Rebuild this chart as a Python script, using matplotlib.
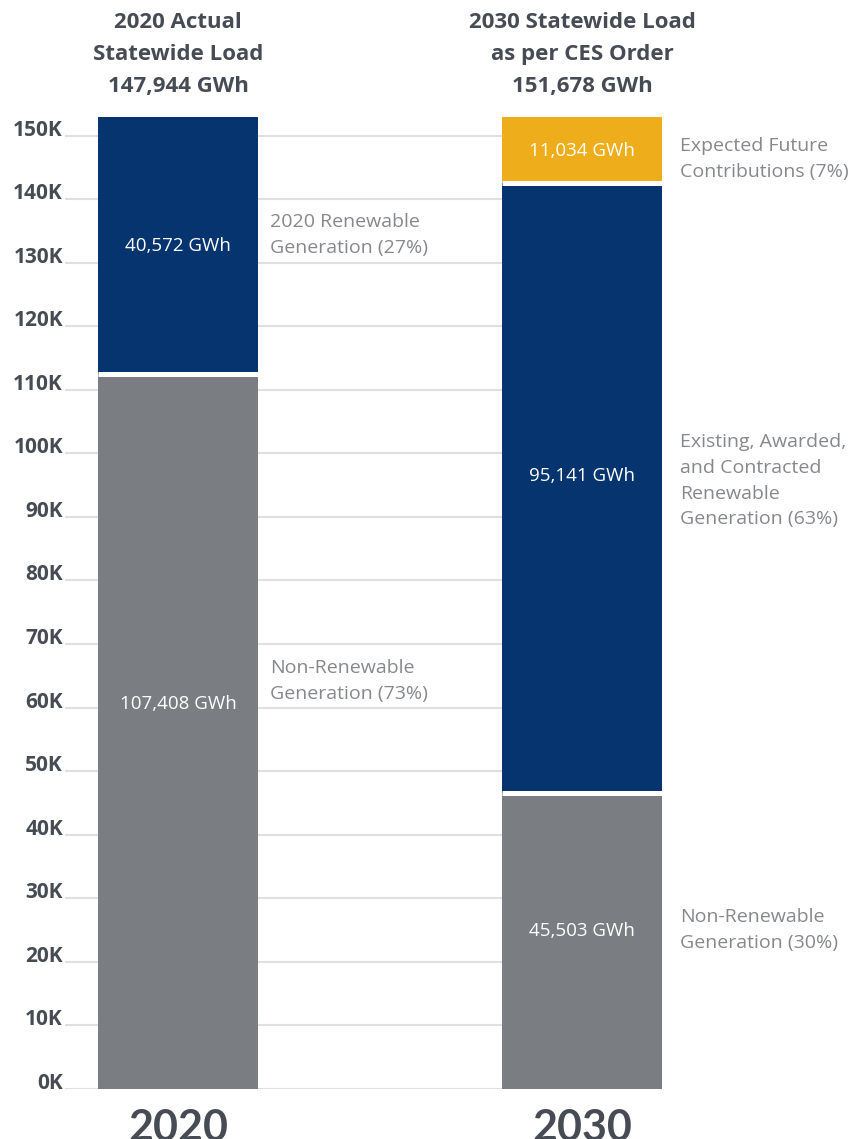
import matplotlib
matplotlib.use("Agg")
import matplotlib.pyplot as plt
import numpy as np

# ---- data (bar heights as drawn, in thousands of GWh) ----
categories = ["2020", "2030"]
non_renewable = [112.5, 46.5]
renewable = [40.4, 96.1]
future = [0.0, 10.3]

seg_labels_2020 = ["107,408 GWh", "40,572 GWh"]
seg_labels_2030 = ["45,503 GWh", "95,141 GWh", "11,034 GWh"]
titles = ["2020 Actual\nStatewide Load\n147,944 GWh",
          "2030 Statewide Load\nas per CES Order\n151,678 GWh"]
side_labels_2020 = ["Non-Renewable\nGeneration (73%)", "2020 Renewable\nGeneration (27%)"]
side_labels_2030 = ["Non-Renewable\nGeneration (30%)",
                    "Existing, Awarded,\nand Contracted\nRenewable\nGeneration (63%)",
                    "Expected Future\nContributions (7%)"]
yticks = list(range(0, 151, 10))
ytick_labels = [f"{t}K" for t in yticks]

# ---- style ----
NAVY = "#05346F"
GREY = "#7A7D82"
GOLD = "#EEAD1A"
DARK = "#474B54"
LIGHT = "#86888C"
FONT = "Open Sans"

W, H = 848, 1139
fig = plt.figure(figsize=(W / 100, H / 100), dpi=100)
ymax = 153
px_per_k = 6.353
ax = fig.add_axes([65 / W, 50.3 / H, 597 / W, ymax * px_per_k / H])

x = np.arange(len(categories))
bw = 0.396
nr = np.array(non_renewable)
rn = np.array(renewable)
fu = np.array(future)

ax.bar(x, nr, bw, color=GREY, zorder=2)
ax.bar(x, rn, bw, bottom=nr, color=NAVY, zorder=2)
ax.bar(x[1:], fu[1:], bw, bottom=(nr + rn)[1:], color=GOLD, zorder=2)

# white separators between stacked segments
for i in range(len(x)):
    bounds = [nr[i]]
    if fu[i] > 0:
        bounds.append(nr[i] + rn[i])
    for b in bounds:
        ax.hlines(b, x[i] - bw / 2, x[i] + bw / 2, color="white", lw=3.6, zorder=3)

ax.set_xlim(-0.2797, 1.198)
ax.set_ylim(0, ymax)
ax.set_yticks(yticks)
ax.set_yticklabels(ytick_labels)
ax.set_xticks([])
for s in ax.spines.values():
    s.set_visible(False)
ax.grid(axis="y", color="#E0E0E0", lw=1.5, zorder=0)
ax.tick_params(axis="y", length=0, pad=1.5)
for lab in ax.get_yticklabels():
    lab.set_fontfamily(FONT)
    lab.set_fontweight("bold")
    lab.set_fontsize(15)
    lab.set_color(DARK)
    lab.set_va("baseline")

# in-bar labels (y positions in data units)
inbar_y_2020 = [60.55, 132.7]
inbar_y_2030 = [24.8, 96.4, 147.6]
for lab, yy in zip(seg_labels_2020, inbar_y_2020):
    ax.text(x[0], yy, lab, ha="center", va="center", color="white",
            fontsize=13.5, family=FONT, zorder=4)
for lab, yy in zip(seg_labels_2030, inbar_y_2030):
    ax.text(x[1], yy, lab, ha="center", va="center", color="white",
            fontsize=13.5, family=FONT, zorder=4)

# side labels
side_y_2020 = [64.2, 134.4]
side_y_2030 = [25.0, 95.7, 146.3]
for lab, yy in zip(side_labels_2020, side_y_2020):
    ax.text(x[0] + bw / 2 + 12 / 404, yy, lab, ha="left", va="center", color=LIGHT,
            fontsize=14, family=FONT, linespacing=1.6, clip_on=False)
for lab, yy in zip(side_labels_2030, side_y_2030):
    ax.text(x[1] + bw / 2 + 18 / 404, yy, lab, ha="left", va="center", color=LIGHT,
            fontsize=14, family=FONT, linespacing=1.56, clip_on=False)

# titles above bars
for xi, t in zip(x, titles):
    xf = (65 + (xi + 0.2797) * 404) / W
    fig.text(xf, 1 - 54.5 / H, t, ha="center", va="center", color=DARK,
             fontsize=16, fontweight="bold", family=FONT, linespacing=1.66)

# big year labels
for xi, c in zip(x, categories):
    xf = (65 + (xi + 0.2797) * 404) / W
    fig.text(xf, 1 - 1108 / H, c, ha="center", va="top", color=DARK,
             fontsize=31, fontweight="bold", family="Lato")

fig.savefig("out.png", dpi=100)
